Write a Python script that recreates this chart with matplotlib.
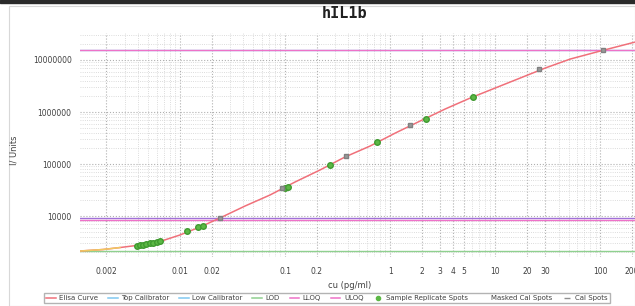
"""
hIL1b 標準曲線の再現
"""
import numpy as np
import matplotlib.pyplot as plt
from matplotlib import rcParams
from matplotlib.patches import Rectangle
from matplotlib.ticker import NullFormatter, LogLocator

rcParams['font.family'] = ['DejaVu Sans']

# Elisa曲線（画像から読み取った点）
curve_x = [0.00112, 0.00185, 0.00269, 0.00416, 0.00646, 0.01, 0.0155, 0.024,
           0.0416, 0.0719, 0.1245, 0.215, 0.372, 0.645, 1.12, 1.93, 3.34,
           5.78, 10, 17.3, 29.9, 51.8, 100, 215]
curve_y = [2123, 2270, 2477, 2767, 3236, 4315, 6138, 9162,
           15560, 25350, 45080, 76740, 136500, 221800, 394500, 671400, 1143000,
           1858000, 2897000, 4508000, 7015000, 10450000, 14890000, 22180000]

# キャリブレーター点
cal_x = [0.024, 0.094, 0.38, 1.55, 26, 105]
cal_y = [9200, 34000, 142000, 562000, 6700000, 15500000]

# サンプル点
sample_x = [0.0039, 0.0042, 0.0045, 0.0048, 0.0052, 0.0056, 0.006, 0.0065,
            0.0117, 0.015, 0.0165, 0.1, 0.106, 0.27, 0.75, 2.2, 6.2]
sample_y = [2650, 2740, 2820, 2900, 3000, 3080, 3180, 3300,
            5150, 6050, 6300, 34600, 35800, 97000, 265000, 730000, 1940000]

# 水平線
top_cal = 15500000
low_cal = 9350
lod = 2150
lloq = 8560
uloq = 15560000

x_ticks = [0.002, 0.01, 0.02, 0.1, 0.2, 1, 2, 3, 4, 5, 10, 20, 30, 100, 200]
x_labels = ['0.002', '0.01', '0.02', '0.1', '0.2', '1', '2', '3', '4', '5',
            '10', '20', '30', '100', '200']
y_ticks = [10000, 100000, 1000000, 10000000]
y_labels = ['10000', '100000', '1000000', '10000000']

fig = plt.figure(figsize=(6.35, 3.06), dpi=100)
W, H = 635, 306
ax = fig.add_axes([80 / W, 1 - 257 / H, (640 - 80) / W, (257 - 33) / H])

ax.set_xscale('log')
ax.set_yscale('log')
ax.set_xlim(0.00112, 238)
ax.set_ylim(10 ** 3.212, 10 ** 7.519)

# 水平線
ax.axhline(top_cal, color='#80c8f0', linewidth=1.0, zorder=2)
ax.axhline(uloq, color='#ee72c8', linewidth=1.0, zorder=2)
ax.axhline(low_cal, color='#a070d8', linewidth=1.0, zorder=2)
ax.axhline(lloq, color='#ee72c8', linewidth=1.0, zorder=2)
ax.axhline(lod, color='#8fd08f', linewidth=1.0, zorder=2)

# 曲線
ax.plot(curve_x, curve_y, color='#f0707a', linewidth=1.1, zorder=3,
        label='Elisa Curve')
ax.plot(curve_x[:3], curve_y[:3], color='#f0c860', linewidth=1.1, zorder=3)

ax.plot(sample_x, sample_y, 'o', color='#5cb845', markeredgecolor='#3f9a30',
        markersize=4.0, zorder=4)
ax.plot(cal_x, cal_y, 's', color='#9a9a9a', markeredgecolor='#808080',
        markersize=3.2, zorder=5)

# グリッド
ax.xaxis.set_minor_locator(LogLocator(base=10, subs=np.arange(2, 10)))
ax.yaxis.set_minor_locator(LogLocator(base=10, subs=np.arange(2, 10)))
ax.xaxis.set_minor_formatter(NullFormatter())
ax.yaxis.set_minor_formatter(NullFormatter())
ax.grid(True, which='major', color='#b0b0b0', linestyle=':', linewidth=0.8)
ax.grid(True, which='minor', color='#d0d0d0', linestyle=':', linewidth=0.6)
ax.set_axisbelow(True)

ax.set_xticks(x_ticks)
ax.set_xticklabels(x_labels)
ax.set_yticks(y_ticks)
ax.set_yticklabels(y_labels)
ax.tick_params(axis='both', which='both', length=0, labelsize=5.5,
               labelcolor='#404040')
ax.tick_params(axis='x', pad=7)
ax.tick_params(axis='y', pad=6)
for s in ax.spines.values():
    s.set_visible(False)

fig.text(345 / W, 1 - 13 / H, 'hIL1b', ha='center', va='center',
         fontsize=11, fontweight='bold', color='#202020',
         family='DejaVu Sans Mono')
fig.text(350 / W, 1 - 286 / H, 'cu (pg/ml)', ha='center', va='center',
         fontsize=6, color='#404040')
fig.text(14 / W, 1 - 150 / H, 'I/ Units', ha='center', va='center',
         fontsize=6, color='#404040', rotation=90)

# 凡例
handles = [
    plt.Line2D([], [], color='#f0707a', linewidth=1.1),
    plt.Line2D([], [], color='#80c8f0', linewidth=1.1),
    plt.Line2D([], [], color='#80c8f0', linewidth=1.1),
    plt.Line2D([], [], color='#8fd08f', linewidth=1.1),
    plt.Line2D([], [], color='#ee72c8', linewidth=1.1),
    plt.Line2D([], [], color='#ee72c8', linewidth=1.1),
    plt.Line2D([], [], marker='o', linestyle='none', color='#5cb845',
               markersize=3),
    plt.Line2D([], [], linestyle='none'),
    plt.Line2D([], [], marker='_', linestyle='none', color='#909090',
               markersize=4),
]
labels = ['Elisa Curve', 'Top Calibrator', 'Low Calibrator', 'LOD', 'LLOQ',
          'ULOQ', 'Sample Replicate Spots', 'Masked Cal Spots', 'Cal Spots']
fig.legend(handles, labels, loc='center', bbox_to_anchor=(327 / W, 1 - 298 / H),
           ncol=9, fontsize=5, frameon=True, fancybox=False,
           edgecolor='#a0a0a0', handlelength=1.4, handletextpad=0.5,
           columnspacing=1.4, borderpad=0.35, labelcolor='#404040')

# 外枠
fig.patches.append(Rectangle((9 / W, 0), 1 - 9 / W, 1 - 6 / H,
                             transform=fig.transFigure, fill=False,
                             edgecolor='#d8d8d8', linewidth=0.8))
fig.patches.append(Rectangle((0, 1 - 3 / H), 1, 3 / H,
                             transform=fig.transFigure, color='#2a2a2a'))

plt.savefig('out.png', dpi=100)
